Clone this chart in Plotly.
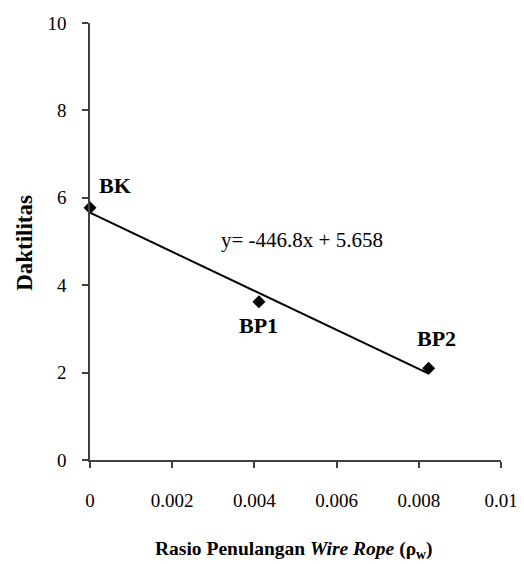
import plotly.graph_objects as go

labels = ["BK", "BP1", "BP2"]
rho_w = [0.0, 0.00411, 0.00824]
daktilitas = [5.77, 3.62, 2.10]
slope = -446.8
intercept = 5.658
x_ticks = [0, 0.002, 0.004, 0.006, 0.008, 0.01]
x_ticktext = ["0", "0.002", "0.004", "0.006", "0.008", "0.01"]
y_ticks = [0, 2, 4, 6, 8, 10]

trend_x = [min(rho_w), max(rho_w)]
trend_y = [slope * v + intercept for v in trend_x]

FONT = "Liberation Serif"

fig = go.Figure()
fig.add_trace(go.Scatter(x=trend_x, y=trend_y, mode="lines",
                         line=dict(color="black", width=2), showlegend=False,
                         cliponaxis=False))
fig.add_trace(go.Scatter(x=rho_w, y=daktilitas, mode="markers",
                         marker=dict(symbol="diamond", size=10, color="black"),
                         showlegend=False, cliponaxis=False))

label_pos = {"BK": (0.00061, 6.29), "BP1": (0.00411, 3.07), "BP2": (0.00842, 2.79)}
for lab in labels:
    px, py = label_pos[lab]
    fig.add_annotation(x=px, y=py, text=f"<b>{lab}</b>", showarrow=False,
                       xanchor="center", yanchor="middle",
                       font=dict(family=FONT, size=22, color="black"))

fig.add_annotation(x=0.00515, y=5.03, text=f"y= {slope}x + {intercept}",
                   showarrow=False, xanchor="center", yanchor="middle",
                   font=dict(family=FONT, size=21, color="black"))

fig.add_annotation(xref="paper", yref="paper", x=0.495, y=-0.206,
                   xanchor="center", yanchor="middle",
                   text="<b>Rasio Penulangan <i>Wire Rope</i> (ρ<sub>w</sub>)</b>",
                   showarrow=False, font=dict(family=FONT, size=19.5, color="black"))
fig.add_annotation(xref="paper", yref="paper", x=-0.158, y=0.497,
                   xanchor="center", yanchor="middle",
                   text="<b>Daktilitas</b>", textangle=-90,
                   showarrow=False, font=dict(family=FONT, size=23, color="black"))

axis_common = dict(showgrid=False, zeroline=False, showline=True,
                   linecolor="#404040", linewidth=1.5, ticks="outside",
                   ticklen=6, tickwidth=1.5, tickcolor="#404040", automargin=False,
                   tickfont=dict(family=FONT, size=19, color="black"))

fig.update_xaxes(range=[0, 0.01], tickvals=x_ticks, ticktext=x_ticktext,
                 ticklabelstandoff=16, **axis_common)
fig.update_yaxes(range=[0, 10], tickvals=y_ticks,
                 ticklabelstandoff=12, **axis_common)

fig.update_layout(width=516, height=556, plot_bgcolor="white", paper_bgcolor="white",
                  font=dict(family=FONT),
                  margin=dict(l=82, r=23, t=15, b=104), showlegend=False)

fig.write_html("out.html")
